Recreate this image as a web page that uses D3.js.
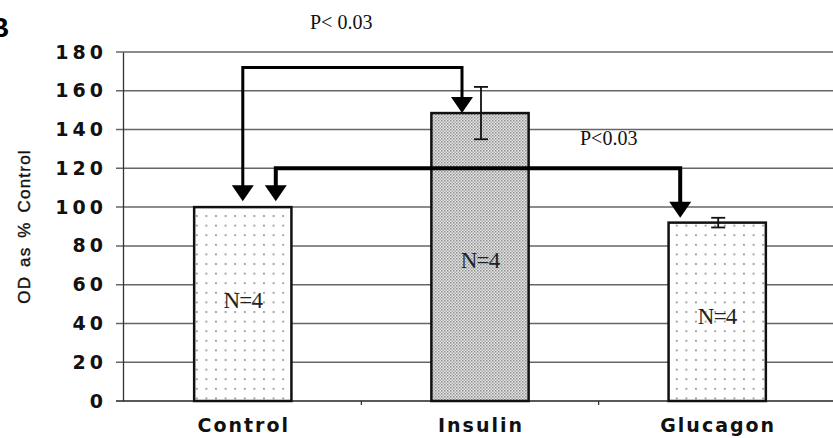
<!DOCTYPE html>
<html>
<head>
<meta charset="utf-8">
<script src="https://cdn.jsdelivr.net/npm/d3@7"></script>
<style>
  body { margin: 0; background: #fff; }
  svg { display: block; }
</style>
</head>
<body>
<svg id="chart" width="833" height="438"></svg>
<script>
// data
var categories = ["Control", "Insulin", "Glucagon"];
var means = [100, 148.5, 92];
var errors = [0, 13.5, 2.5];
var nLabels = ["N=4", "N=4", "N=4"];
var nLabelY = [52, 73, 44];
var yTicks = [0, 20, 40, 60, 80, 100, 120, 140, 160, 180];

// significance brackets: start bar, end bar, level of the horizontal run
var brackets = [
  {from: "Control", to: "Insulin", level: 172, tipFrom: 103, tipTo: 148.5, dxFrom: 0, dxTo: -18},
  {from: "Control", to: "Glucagon", level: 120, tipFrom: 103, tipTo: 94.5, dxFrom: 33, dxTo: -37}
];
var pLabels = [
  {text: "P< 0.03", cat: "Insulin", dx: -170, value: 192},
  {text: "P<0.03", cat: "Insulin", dx: 100, value: 132}
];

var svg = d3.select("#chart");

var margin = {top: 52, left: 123, bottom: 37};
var height = 438 - margin.bottom;

var x = d3.scaleBand().domain(categories).range([123, 837]).paddingInner(0.59).paddingOuter(0.3);
var y = d3.scaleLinear().domain([0, 180]).range([height, margin.top]);

var defs = svg.append("defs");

var dots = defs.append("pattern")
    .attr("id", "dots")
    .attr("patternUnits", "userSpaceOnUse")
    .attr("width", 9.6).attr("height", 9.6);
dots.append("rect").attr("width", 9.6).attr("height", 9.6).attr("fill", "#fff");
dots.append("circle").attr("cx", 4.8).attr("cy", 4.8).attr("r", 1).attr("fill", "#888");

var fine = defs.append("pattern")
    .attr("id", "fine")
    .attr("patternUnits", "userSpaceOnUse")
    .attr("width", 3).attr("height", 3);
fine.append("rect").attr("width", 3).attr("height", 3).attr("fill", "#e4e4e4");
fine.append("rect").attr("width", 1.5).attr("height", 1.5).attr("fill", "#909090");
fine.append("rect").attr("x", 1.5).attr("y", 1.5).attr("width", 1.5).attr("height", 1.5).attr("fill", "#acacac");

var fills = {"Control": "url(#dots)", "Insulin": "url(#fine)", "Glucagon": "url(#dots)"};

// gridlines
svg.append("g")
  .selectAll("line")
  .data(yTicks)
  .enter().append("line")
    .attr("x1", 116).attr("x2", 833)
    .attr("y1", function(d) { return y(d); })
    .attr("y2", function(d) { return y(d); })
    .attr("stroke", function(d) { return d === 0 ? "#222" : "#666"; })
    .attr("stroke-width", 1.5);

// y axis
var yAxis = svg.append("g")
    .attr("transform", "translate(123,0)")
    .call(d3.axisLeft(y).tickValues(yTicks).tickSize(0).tickPadding(16));
yAxis.select(".domain").attr("stroke", "#333").attr("stroke-width", 1.3);
yAxis.selectAll("text")
    .style("font", "bold 19px 'DejaVu Sans'")
    .style("letter-spacing", "4px")
    .attr("fill", "#111");

// x axis (category ticks between bars)
svg.append("g")
  .selectAll("line")
  .data(categories.slice(1))
  .enter().append("line")
    .attr("x1", function(d) { return x(d) - x.step() * x.paddingInner() / 2; })
    .attr("x2", function(d) { return x(d) - x.step() * x.paddingInner() / 2; })
    .attr("y1", height).attr("y2", height + 4)
    .attr("stroke", "#333").attr("stroke-width", 1.3);

svg.append("g")
  .selectAll("text")
  .data(categories)
  .enter().append("text")
    .attr("x", function(d) { return x(d) + x.bandwidth() / 2 + 1; })
    .attr("y", 432)
    .attr("text-anchor", "middle")
    .style("font", "bold 19px 'DejaVu Sans'")
    .style("letter-spacing", "2px")
    .attr("fill", "#111")
    .text(function(d) { return d; });

// y label
svg.append("text")
    .attr("transform", "translate(30," + y(90) + ") rotate(-90)")
    .attr("text-anchor", "middle")
    .style("font", "17px 'Liberation Sans'")
    .style("letter-spacing", "1.2px")
    .style("word-spacing", "3px")
    .attr("fill", "#111")
    .attr("stroke", "#111")
    .attr("stroke-width", 0.4)
    .text("OD as % Control");

// panel letter
svg.append("text")
    .attr("x", -11).attr("y", 37)
    .style("font", "bold 28px 'Liberation Sans'")
    .attr("fill", "#000")
    .text("B");

// bars
svg.append("g")
  .selectAll("rect")
  .data(categories)
  .enter().append("rect")
    .attr("x", function(d) { return x(d); })
    .attr("y", function(d, i) { return y(means[i]); })
    .attr("width", x.bandwidth())
    .attr("height", function(d, i) { return y(0) - y(means[i]); })
    .attr("fill", function(d) { return fills[d]; })
    .attr("stroke", "#111")
    .attr("stroke-width", 2.5);

// error bars
var err = svg.append("g").attr("stroke", "#111").attr("stroke-width", 1.8);
categories.forEach(function(c, i) {
  if (!errors[i]) return;
  var cx = x(c) + x.bandwidth() / 2 + 1;
  err.append("line").attr("x1", cx).attr("x2", cx)
      .attr("y1", y(means[i] + errors[i])).attr("y2", y(means[i] - errors[i]));
  [means[i] + errors[i], means[i] - errors[i]].forEach(function(v) {
    err.append("line").attr("x1", cx - 7).attr("x2", cx + 7)
        .attr("y1", y(v)).attr("y2", y(v));
  });
});

// N labels
svg.append("g")
  .selectAll("text")
  .data(categories)
  .enter().append("text")
    .attr("x", function(d) { return x(d) + x.bandwidth() / 2; })
    .attr("y", function(d, i) { return y(nLabelY[i]); })
    .attr("dy", "0.35em")
    .attr("text-anchor", "middle")
    .style("font", "23px 'Liberation Serif'")
    .style("letter-spacing", "-0.8px")
    .attr("fill", "#222")
    .text(function(d, i) { return nLabels[i]; });

// brackets with arrow heads
var head = 16, headW = 11;
function arrowHead(g, cx, tipY) {
  g.append("path")
      .attr("d", "M" + (cx - headW) + "," + (tipY - head) + "L" + (cx + headW) + "," + (tipY - head) + "L" + cx + "," + tipY + "Z")
      .attr("fill", "#000");
}
brackets.forEach(function(b, i) {
  var g = svg.append("g");
  var x1 = x(b.from) + x.bandwidth() / 2 + b.dxFrom;
  var x2 = x(b.to) + x.bandwidth() / 2 + b.dxTo;
  var yl = y(b.level);
  g.append("path")
      .attr("d", "M" + x1 + "," + (y(b.tipFrom) - head + 2) + "L" + x1 + "," + yl +
                 "L" + x2 + "," + yl + "L" + x2 + "," + (y(b.tipTo) - head + 2))
      .attr("fill", "none")
      .attr("stroke", "#000")
      .attr("stroke-width", i === 0 ? 3 : 4);
  arrowHead(g, x1, y(b.tipFrom));
  arrowHead(g, x2, y(b.tipTo));
});

// p values
svg.append("g")
  .selectAll("text")
  .data(pLabels)
  .enter().append("text")
    .attr("x", function(d) { return x(d.cat) + x.bandwidth() / 2 + d.dx; })
    .attr("y", function(d) { return y(d.value); })
    .style("font", "20px 'Liberation Serif'")
    .attr("fill", "#111")
    .text(function(d) { return d.text; });
</script>
</body>
</html>
